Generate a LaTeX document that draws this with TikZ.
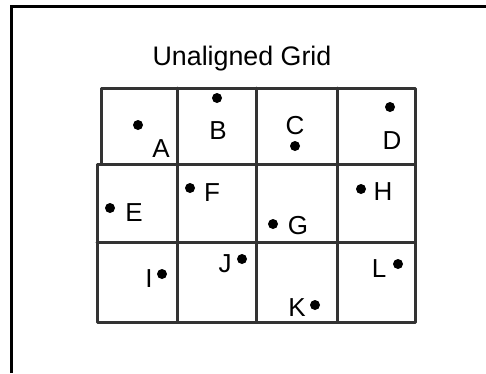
\documentclass[tikz,border=0pt]{standalone}
\usepackage{fontspec}
\setmainfont{Liberation Sans}
\begin{document}
\begin{tikzpicture}[x=1pt,y=-1pt,
  gridline/.style={line width=3pt, draw=black!80, line cap=round, line join=round},
  frameline/.style={line width=3pt, draw=black},
  pt/.style={circle, fill=black, inner sep=0pt, minimum size=10pt},
  lbl/.style={anchor=base, inner sep=0pt, font=\fontsize{26}{30}\selectfont},
]
\useasboundingbox (0,0) rectangle (486,373);
% outer frame (left and top)
\draw[frameline] (11.5,373) -- (11.5,6) -- (486,6);
% title
\node[anchor=base, inner sep=0pt, font=\fontsize{26.8}{32}\selectfont] (title) at (242,65) {Unaligned Grid};
% grid
\draw[gridline] (101,88) rectangle (415,164);
\draw[gridline] (177,88) -- (177,164);
\draw[gridline] (256,88) -- (256,164);
\draw[gridline] (337,88) -- (337,164);
\draw[gridline] (97,164) rectangle (415,322);
\draw[gridline] (97,242) -- (415,242);
\draw[gridline] (177,164) -- (177,322);
\draw[gridline] (256,164) -- (256,322);
\draw[gridline] (337,164) -- (337,322);
% points and labels
\node[pt] (pA) at (138,125) {};  \node[lbl] (A) at (161,157) {A};
\node[pt] (pB) at (217,98) {};   \node[lbl] (B) at (218,139) {B};
\node[pt] (pC) at (295,146) {};  \node[lbl] (C) at (295,134) {C};
\node[pt] (pD) at (390,107) {};  \node[lbl] (D) at (392,149) {D};
\node[pt] (pE) at (110,208) {};  \node[lbl] (E) at (134,221) {E};
\node[pt] (pF) at (190,188) {};  \node[lbl] (F) at (212,201) {F};
\node[pt] (pG) at (273,224) {};  \node[lbl] (G) at (298,234) {G};
\node[pt] (pH) at (361,189) {};  \node[lbl] (H) at (383,200) {H};
\node[pt] (pI) at (162,274) {};  \node[lbl] (I) at (149,287) {I};
\node[pt] (pJ) at (242,259) {};  \node[lbl] (J) at (225,272) {J};
\node[pt] (pK) at (315,305) {};  \node[lbl] (K) at (297,316) {K};
\node[pt] (pL) at (398,264) {};  \node[lbl] (L) at (379,277) {L};
\end{tikzpicture}
\end{document}
